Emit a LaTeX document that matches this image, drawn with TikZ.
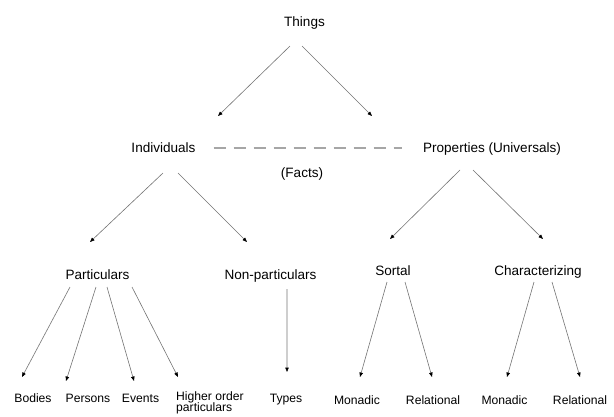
\documentclass[tikz,border=0pt]{standalone}
\usepackage{fontspec}
\setmainfont{Liberation Sans}
\usetikzlibrary{arrows.meta}
\begin{document}
\begin{tikzpicture}[x=1bp,y=-1bp,
  big/.style={inner sep=0pt,anchor=base,font=\fontsize{13.6}{16}\selectfont},
  small/.style={inner sep=0pt,anchor=base,font=\fontsize{12.2}{13}\selectfont},
  link/.style={draw=black!55,line width=0.6bp,-{Triangle[length=4.5bp,width=3.5bp,color=black]}},
  dashlink/.style={draw=black!35,line width=1.2bp,dash pattern=on 12bp off 8bp}]
\useasboundingbox (0,0) rectangle (614,416);
% nodes
\node[big] (things) at (304.5,26) {Things};
\node[big] (ind) at (163.5,152) {Individuals};
\node[big] (prop) at (492,152) {Properties (Universals)};
\node[big] (facts) at (302,177) {(Facts)};
\node[big] (part) at (97.5,279) {Particulars};
\node[big] (nonpart) at (270.5,279) {Non-particulars};
\node[big] (sortal) at (393,275) {Sortal};
\node[big] (char) at (538,275) {Characterizing};
\node[small] (bodies) at (33,402) {Bodies};
\node[small] (persons) at (88,402) {Persons};
\node[small] (events) at (140.5,402) {Events};
\node[small,anchor=north west,align=left] (higher) at (176,391) {Higher order\\[-1bp]particulars};
\node[small] (types) at (286,402) {Types};
\node[small] (mon1) at (357,404) {Monadic};
\node[small] (rel1) at (433,404) {Relational};
\node[small] (mon2) at (504.5,404) {Monadic};
\node[small] (rel2) at (580,404) {Relational};
% connectors
\draw[link] ([shift={(-14.5,20)}]things.base) -- ([shift={(54.5,-36)}]ind.base);
\draw[link] ([shift={(-2.5,20)}]things.base) -- ([shift={(-120,-36)}]prop.base);
\draw[dashlink] ([shift={(50,-4)}]ind.base) -- ([shift={(-90,-4)}]prop.base);
\draw[link] ([shift={(-0.5,21)}]ind.base) -- ([shift={(-7.5,-37)}]part.base);
\draw[link] ([shift={(14.5,21)}]ind.base) -- ([shift={(-23.5,-37)}]nonpart.base);
\draw[link] ([shift={(-32,18)}]prop.base) -- ([shift={(-3,-36)}]sortal.base);
\draw[link] ([shift={(-19,18)}]prop.base) -- ([shift={(5,-36)}]char.base);
\draw[link] ([shift={(-27.5,8)}]part.base) -- ([shift={(-11,-25)}]bodies.base);
\draw[link] ([shift={(-1.5,8)}]part.base) -- ([shift={(-22,-21)}]persons.base);
\draw[link] ([shift={(9.5,8)}]part.base) -- ([shift={(-6.5,-21)}]events.base);
\draw[link] ([shift={(34.5,8)}]part.base) -- ([shift={(2,-14)}]higher.north west);
\draw[link] ([shift={(16.5,10)}]nonpart.base) -- ([shift={(1,-30)}]types.base);
\draw[link] ([shift={(-6,7)}]sortal.base) -- ([shift={(3,-27)}]mon1.base);
\draw[link] ([shift={(12,7)}]sortal.base) -- ([shift={(-1,-27)}]rel1.base);
\draw[link] ([shift={(-4,7)}]char.base) -- ([shift={(2.5,-27)}]mon2.base);
\draw[link] ([shift={(14,7)}]char.base) -- ([shift={(0,-27)}]rel2.base);
\end{tikzpicture}
\end{document}
